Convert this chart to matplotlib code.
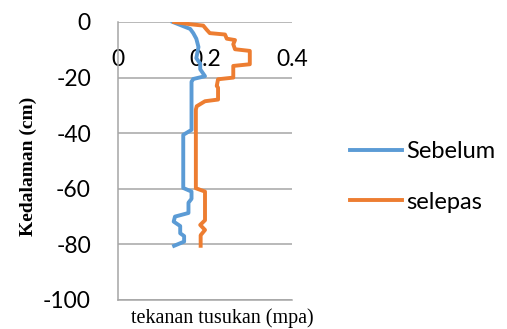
import matplotlib
matplotlib.use("Agg")
import matplotlib.pyplot as plt

# tekanan tusukan (mpa) vs kedalaman (cm)
sebelum_x = [0.126, 0.166, 0.173, 0.180, 0.185, 0.180, 0.189, 0.189, 0.200, 0.173, 0.169,
             0.169, 0.150, 0.150, 0.169, 0.169, 0.162, 0.162, 0.131, 0.128, 0.143, 0.143,
             0.152, 0.152, 0.129]
sebelum_y = [0, -2.5, -4, -6, -9, -13, -15, -17, -19.5, -20.5, -21.5,
             -38.8, -40.6, -59.7, -61, -63.6, -65, -68.7, -70, -71.8, -73.4, -76,
             -77, -79, -80.5]

selepas_x = [0.129, 0.166, 0.196, 0.204, 0.211, 0.246, 0.250, 0.269, 0.265, 0.269, 0.303,
             0.303, 0.265, 0.265, 0.230, 0.227, 0.230, 0.230, 0.200, 0.181, 0.179, 0.179,
             0.200, 0.200, 0.189, 0.200, 0.190, 0.190]
selepas_y = [0, -0.8, -1.3, -2.8, -4, -4.5, -6, -6.5, -8, -9.8, -10.4,
             -15.2, -15.8, -20, -20.6, -23, -23.6, -27.9, -28.5, -30.3, -31.5, -59.8,
             -61, -71.3, -73, -74.8, -76.7, -80.5]

x_ticks = [0, 0.2, 0.4]
x_labels = ["0", "0.2", "0.4"]
y_ticks = [0, -20, -40, -60, -80, -100]

fig = plt.figure(figsize=(5.07, 3.29), dpi=100)
ax = fig.add_axes([118 / 507, 1 - 300 / 329, 174 / 507, 278 / 329])

grid_col = "#a6a6a6"
for yv in y_ticks:
    ax.axhline(yv, color=grid_col, lw=1.1, zorder=1)

ax.plot(sebelum_x, sebelum_y, color="#5B9BD5", lw=2.8, label="Sebelum", zorder=3,
        solid_joinstyle="round")
ax.plot(selepas_x, selepas_y, color="#ED7D31", lw=2.8, label="selepas", zorder=3,
        solid_joinstyle="round")

ax.set_xlim(0, 0.4)
ax.set_ylim(-100, 0)

for s in ["top", "right"]:
    ax.spines[s].set_visible(False)
for s in ["left", "bottom"]:
    ax.spines[s].set_color(grid_col)
    ax.spines[s].set_linewidth(1.1)

tick_font = "Lato"
fs = 16.5
ax.set_xticks(x_ticks)
ax.set_xticklabels(x_labels, fontfamily=tick_font, fontsize=fs)
ax.tick_params(axis="x", bottom=False, top=False, labelbottom=False, labeltop=True, pad=-38)
ax.set_yticks(y_ticks)
ax.set_yticklabels([str(v) for v in y_ticks], fontfamily=tick_font, fontsize=fs)
ax.tick_params(axis="y", left=False, pad=16)

fig.text(28 / 507, 1 - 166 / 329, "Kedalaman (cm)", rotation=90, ha="center", va="center",
         fontfamily="Liberation Serif", fontweight="bold", fontsize=14)
fig.text(222 / 507, 1 - 318 / 329, "tekanan tusukan (mpa)", ha="center", va="center",
         fontfamily="Liberation Serif", fontsize=14.5)

leg = ax.legend(loc="center left", bbox_to_anchor=(350 / 507, 1 - 177 / 329),
                bbox_transform=fig.transFigure, frameon=False, borderpad=0, borderaxespad=0,
                prop={"family": tick_font, "size": 17}, handlelength=2.2, handletextpad=0.2,
                labelspacing=1.25)

fig.savefig("out.png", dpi=100)
